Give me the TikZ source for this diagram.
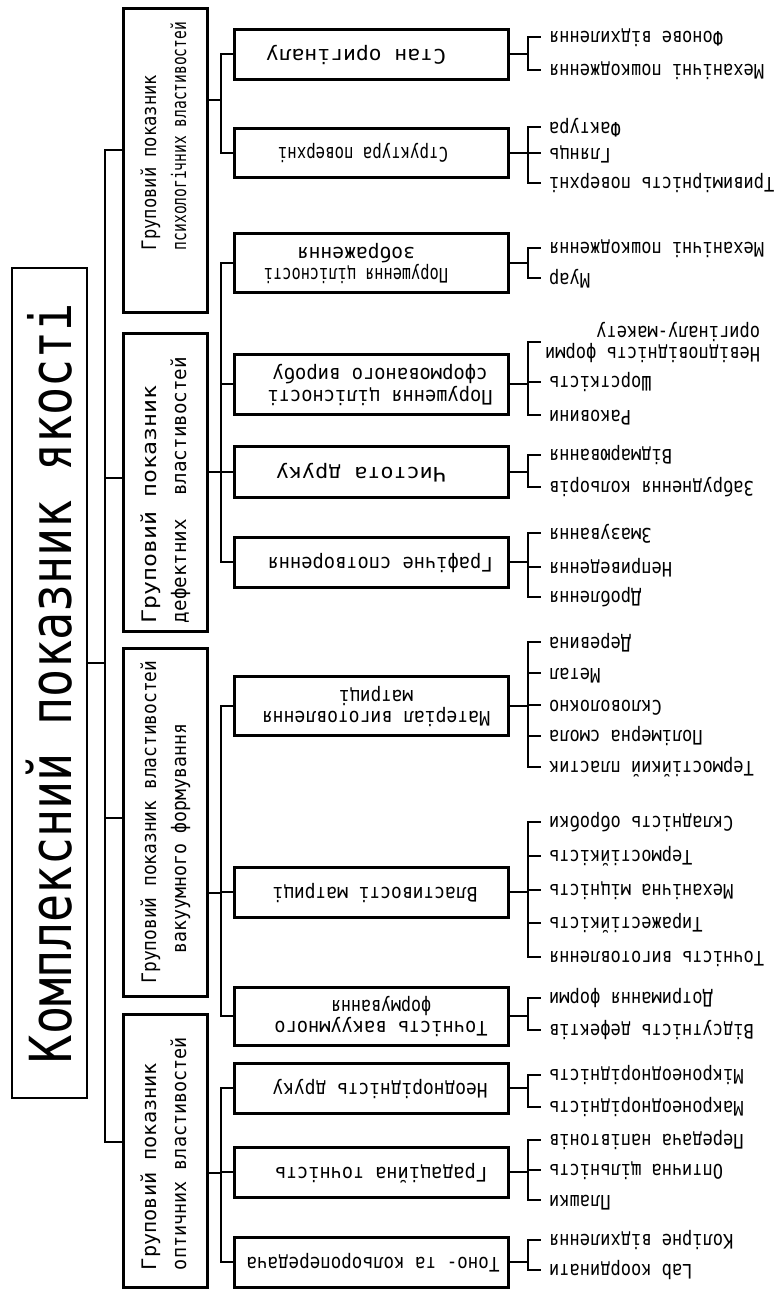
\documentclass[tikz,border=0pt]{standalone}
\usepackage{fontspec}
\setmainfont{DejaVu Sans Mono}[FakeStretch=0.85]
\usepackage{graphicx}
\newcommand\fw[2]{\resizebox{#1pt}{\height}{#2}}
\newcommand\lf[1]{\rotatebox{180}{\strut #1}}
\newcommand\mybr[3]{\draw[conn] (#1.east) -- (bx |- #1.east); \draw[conn] (bx |- #2.west) -- (bx |- #3.west);}
\begin{document}
\begin{tikzpicture}[x=1pt,y=-1pt,
  conn/.style={line width=2pt, line cap=rect},
  rootbox/.style={draw, line width=2.8pt, minimum width=75pt, minimum height=830pt, inner sep=0pt, font=\fontsize{58}{60}\selectfont},
  gbox/.style={draw, line width=3pt, minimum width=84pt, inner sep=0pt, font=\fontsize{20}{30}\selectfont},
  tbox/.style={draw, line width=3pt, minimum width=274pt, inner sep=0pt, font=\fontsize{20}{19.5}\selectfont},
  leaf/.style={anchor=west, inner sep=0pt, font=\fontsize{20}{17}\selectfont}]
\fill[white] (0,0) rectangle (778,1291);
\useasboundingbox (0,0) rectangle (778,1291);

% root
\node[rootbox] (root) at (49.5,683) {\rotatebox{90}{\fw{760}{Комплексний показник якості}}};

% group boxes
\node[gbox, minimum height=304pt] (g1) at (165,160) {\rotatebox{90}{\begin{tabular}{@{\hspace{48pt}}l@{}}\fw{175}{Груповий показник}\\\fw{228}{психологічних властивостей}\end{tabular}}};
\node[gbox, minimum height=298pt] (g2) at (165,482) {\rotatebox{90}{\begin{tabular}{@{}l@{\hspace{16pt}}}\fw{237}{Груповий показник}\\\fw{266}{дефектних\ \ властивостей}\end{tabular}}};
\node[gbox, minimum height=348pt] (g3) at (165,822) {\rotatebox{90}{\begin{tabular}{@{}l@{}}\fw{323}{Груповий показник властивостей}\\\hspace*{30pt}\fw{230}{вакуумного формування}\end{tabular}}};
\node[gbox, minimum height=273pt] (g4) at (165,1150.5) {\rotatebox{90}{\begin{tabular}{@{}l@{\hspace{6pt}}}\fw{207}{Груповий показник}\\\fw{233}{оптичних властивостей}\end{tabular}}};

% third-level boxes
\node[tbox, minimum height=50pt] (t1) at (371,54) {\rotatebox{180}{\hspace*{30pt}\fw{180}{\strut Стан оригіналу}}};
\node[tbox, minimum height=49pt] (t2) at (371,152.5) {\rotatebox{180}{\hspace*{16pt}\fw{170}{\strut Структура поверхні}}};
\node[tbox, minimum height=59pt] (t3) at (371,262.5) {\rotatebox{180}{\begin{tabular}{@{\hspace{30pt}}c@{}}\fw{184}{Порушення цілісності}\\\fw{118}{зображення}\end{tabular}}};
\node[tbox, minimum height=60pt] (t4) at (371,384) {\rotatebox{180}{\begin{tabular}{@{}c@{\hspace{18pt}}}\fw{225}{Порушення цілісності}\\\fw{215}{сформованого виробу}\end{tabular}}};
\node[tbox, minimum height=51pt] (t5) at (371,471.5) {\rotatebox{180}{\hspace*{20pt}\fw{170}{\strut Чистота друку}}};
\node[tbox, minimum height=50pt] (t6) at (371,562) {\rotatebox{180}{\fw{225}{\strut Графічне спотворення}\hspace*{18pt}}};
\node[tbox, minimum height=59pt] (t7) at (371,705.5) {\rotatebox{180}{\begin{tabular}{@{}c@{\hspace{10pt}}}\fw{228}{Матеріал виготовлення}\\\fw{74}{матриці}\end{tabular}}};
\node[tbox, minimum height=50pt] (t8) at (371,892) {\rotatebox{180}{\fw{205}{\strut Властивості матриці}\hspace*{8pt}}};
\node[tbox, minimum height=58pt] (t9) at (371,1016) {\rotatebox{180}{\begin{tabular}{@{}c@{\hspace{20pt}}}\fw{213}{Точність вакуумного}\\\fw{100}{формування}\end{tabular}}};
\node[tbox, minimum height=50pt] (t10) at (371,1088) {\rotatebox{180}{\fw{215}{\strut Неоднорідність друку}\hspace*{18pt}}};
\node[tbox, minimum height=50pt] (t11) at (371,1172) {\rotatebox{180}{\fw{212}{\strut Градаційна точність}\hspace*{20pt}}};
\node[tbox, minimum height=50pt] (t12) at (371,1262) {\rotatebox{180}{\fw{253}{\strut Тоно- та кольоропередача}\hspace*{4pt}}};

% leaves
\node[leaf] (l1a) at (549,37) {\lf{Фонове відхилення}};
\node[leaf] (l1b) at (549,70) {\lf{Механічні пошкодження}};
\node[leaf] (l2a) at (549,127) {\lf{Фактура}};
\node[leaf] (l2b) at (549,153) {\lf{Глянць}};
\node[leaf] (l2c) at (549,183) {\lf{Тривимірність поверхні}};
\node[leaf] (l3a) at (549,248) {\lf{Механічні пошкодження}};
\node[leaf] (l3b) at (549,278) {\lf{Муар}};
\node[leaf] (l4a) at (545,342) {\rotatebox{180}{\begin{tabular}{@{}l@{}}Невідповідність форми\\оригіналу-макету\end{tabular}}};
\node[leaf] (l4b) at (549,382) {\lf{Шорсткість}};
\node[leaf] (l4c) at (549,415) {\lf{Раковини}};
\node[leaf] (l5a) at (549,455) {\lf{Відмарювання}};
\node[leaf] (l5b) at (549,487) {\lf{Забруднення кольорів}};
\node[leaf] (l6a) at (549,533) {\lf{Змазування}};
\node[leaf] (l6b) at (549,567) {\lf{Неприведення}};
\node[leaf] (l6c) at (549,597) {\lf{Дроблення}};
\node[leaf] (l7a) at (549,642) {\lf{Деревина}};
\node[leaf] (l7b) at (549,673) {\lf{Метал}};
\node[leaf] (l7c) at (549,705) {\lf{Скловолокно}};
\node[leaf] (l7d) at (549,736) {\lf{Полімерна смола}};
\node[leaf] (l7e) at (549,767) {\lf{Термостійкий пластик}};
\node[leaf] (l8a) at (549,822) {\lf{Складність обробки}};
\node[leaf] (l8b) at (549,856) {\lf{Термостійкість}};
\node[leaf] (l8c) at (549,890) {\lf{Механічна міцність}};
\node[leaf] (l8d) at (549,923) {\lf{Тиражестійкість}};
\node[leaf] (l8e) at (549,957) {\lf{Точність виготовлення}};
\node[leaf] (l9a) at (549,998) {\lf{Дотримання форми}};
\node[leaf] (l9b) at (549,1030) {\lf{Відсутність дефектів}};
\node[leaf] (l10a) at (549,1075) {\lf{Мікронеоднорідність}};
\node[leaf] (l10b) at (549,1107) {\lf{Макронеоднорідність}};
\node[leaf] (l11a) at (549,1140) {\lf{Передача напівтонів}};
\node[leaf] (l11b) at (549,1170) {\lf{Оптична щільність}};
\node[leaf] (l11c) at (549,1200) {\lf{Плашки}};
\node[leaf] (l12a) at (549,1240) {\lf{Колірне відхилення}};
\node[leaf] (l12b) at (549,1270) {\lf{Lab координати}};

% main bus
\coordinate (m0) at (105,663);
\coordinate (m1) at (105,150);
\coordinate (m2) at (105,478);
\coordinate (m3) at (105,818);
\coordinate (m4) at (105,1142);
\draw[conn] (m1) -- (m4);
\draw[conn] (root.east |- m0) -- (m0);
\draw[conn] (m1) -- (g1.west |- m1);
\draw[conn] (m2) -- (g2.west |- m2);
\draw[conn] (m3) -- (g3.west |- m3);
\draw[conn] (m4) -- (g4.west |- m4);

% group buses
\coordinate (s1) at (221,100);
\coordinate (s2) at (221,472);
\coordinate (s3) at (221,893);
\coordinate (s4) at (221,1173);
\draw[conn] (g1.east |- s1) -- (s1);
\draw[conn] (g2.east |- s2) -- (s2);
\draw[conn] (g3.east |- s3) -- (s3);
\draw[conn] (g4.east |- s4) -- (s4);
\draw[conn] (s1 |- t1.west) -- (s1 |- t2.west);
\draw[conn] (s2 |- t3.west) -- (s2 |- t6.west);
\draw[conn] (s3 |- t7.west) -- (s3 |- t9.west);
\draw[conn] (s4 |- t10.west) -- (s4 |- t12.west);
\foreach \t in {t1,t2} \draw[conn] (s1 |- \t.west) -- (\t.west);
\foreach \t in {t3,t4,t5,t6} \draw[conn] (s2 |- \t.west) -- (\t.west);
\foreach \t in {t7,t8,t9} \draw[conn] (s3 |- \t.west) -- (\t.west);
\foreach \t in {t10,t11,t12} \draw[conn] (s4 |- \t.west) -- (\t.west);

% leaf brackets
\coordinate (bx) at (528,0);
\coordinate (tk) at (540,0);
\mybr{t1}{l1a}{l1b}
\mybr{t2}{l2a}{l2c}
\mybr{t3}{l3a}{l3b}
\mybr{t4}{l4a}{l4c}
\mybr{t5}{l5a}{l5b}
\mybr{t6}{l6a}{l6c}
\mybr{t7}{l7a}{l7e}
\mybr{t8}{l8a}{l8e}
\mybr{t9}{l9a}{l9b}
\mybr{t10}{l10a}{l10b}
\mybr{t11}{l11a}{l11c}
\mybr{t12}{l12a}{l12b}
\foreach \l in {l1a,l1b,l2a,l2b,l2c,l3a,l3b,l4b,l4c,l5a,l5b,l6a,l6b,l6c,l7a,l7b,l7c,l7d,l7e,l8a,l8b,l8c,l8d,l8e,l9a,l9b,l10a,l10b,l11a,l11b,l11c,l12a,l12b}
  \draw[conn] (bx |- \l.west) -- (tk |- \l.west);
\draw[conn] (bx |- l4a.west) -- ([xshift=-5pt]l4a.west);
\end{tikzpicture}
\end{document}
